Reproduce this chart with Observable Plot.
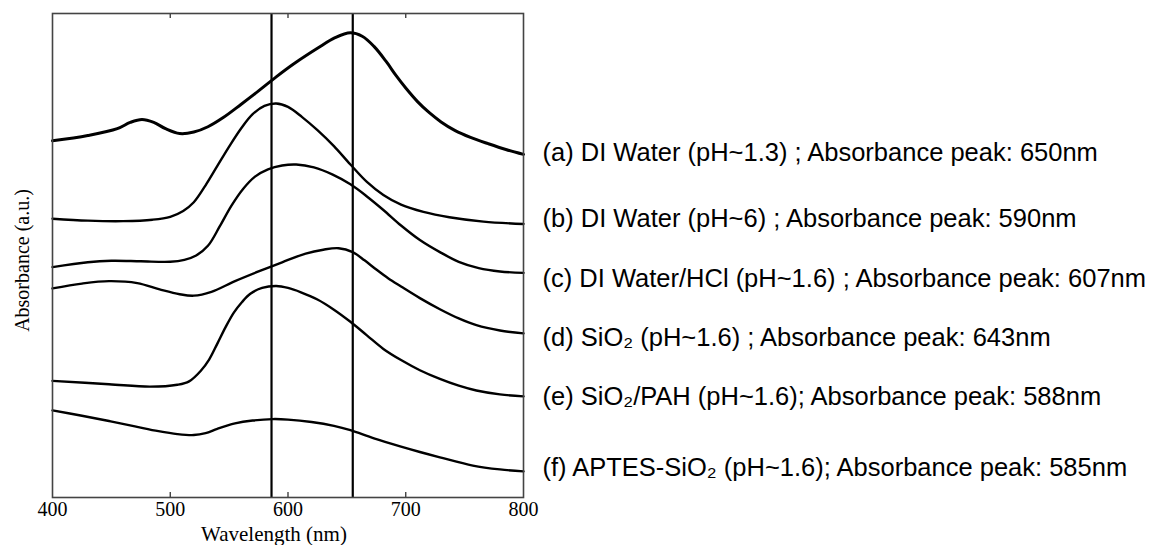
<!DOCTYPE html>
<html>
<head>
<meta charset="utf-8">
<script src="https://cdn.jsdelivr.net/npm/d3@7"></script>
<script src="https://cdn.jsdelivr.net/npm/@observablehq/plot@0.6"></script>
<style>
  html, body { margin: 0; padding: 0; background: #fff; }
  #chart { width: 1157px; height: 545px; overflow: hidden; }
</style>
</head>
<body>
<div id="chart"></div>
<script>
// ---- data (absorbance in arbitrary units, curves offset for display) ----
const waveA = [400,430,455,466,476,486,496,508,520,532,545,560,575,590,605,625,640,653,663,673,683,692,700,710,720,730,742,755,770,785,800];
const absA  = [0.737,0.748,0.762,0.775,0.781,0.775,0.762,0.752,0.755,0.766,0.785,0.812,0.840,0.869,0.896,0.928,0.950,0.960,0.953,0.932,0.902,0.871,0.846,0.818,0.795,0.776,0.758,0.744,0.731,0.719,0.709];

const waveB = [400,430,460,485,500,511,520,530,540,550,560,570,580,590,600,612,625,639,653,667,681,696,715,737,766,800];
const absB  = [0.576,0.572,0.571,0.574,0.580,0.592,0.610,0.645,0.685,0.725,0.762,0.792,0.809,0.814,0.807,0.786,0.759,0.726,0.688,0.652,0.625,0.605,0.590,0.579,0.570,0.565];

const waveC = [400,430,450,475,500,512,522,532,542,552,562,572,583,595,607,622,638,653,667,681,696,712,729,745,762,780,800];
const absC  = [0.476,0.486,0.489,0.488,0.487,0.491,0.500,0.520,0.560,0.603,0.638,0.663,0.678,0.686,0.688,0.682,0.667,0.647,0.622,0.594,0.562,0.532,0.507,0.487,0.474,0.467,0.464];

const waveD = [400,425,448,472,491,508,520,535,555,575,595,615,630,643,655,665,675,685,696,712,729,745,760,780,800];
const absD  = [0.432,0.442,0.447,0.443,0.430,0.420,0.417,0.425,0.447,0.467,0.486,0.504,0.512,0.515,0.507,0.490,0.471,0.453,0.436,0.412,0.389,0.370,0.356,0.345,0.339];

const waveE = [400,448,483,506,516,526,533,540,547,554,561,568,578,590,600,611,625,639,653,667,681,696,712,729,745,760,780,800];
const absE  = [0.241,0.234,0.229,0.233,0.240,0.262,0.285,0.318,0.352,0.382,0.404,0.421,0.433,0.437,0.433,0.424,0.409,0.388,0.363,0.335,0.307,0.284,0.263,0.245,0.231,0.221,0.213,0.209];

const waveF = [400,425,448,470,490,506,520,530,540,555,570,587,600,620,639,653,673,696,712,729,757,780,800];
const absF  = [0.180,0.169,0.158,0.147,0.137,0.131,0.129,0.133,0.142,0.153,0.159,0.162,0.161,0.156,0.148,0.139,0.122,0.105,0.094,0.083,0.066,0.058,0.054];

const seriesKeys = ["a","b","c","d","e","f"];
const seriesLabels = [
  "(a) DI Water (pH~1.3) ; Absorbance peak: 650nm",
  "(b) DI Water (pH~6) ; Absorbance peak: 590nm",
  "(c) DI Water/HCl (pH~1.6) ; Absorbance peak: 607nm",
  "(d) SiO\u2082 (pH~1.6) ; Absorbance peak: 643nm",
  "(e) SiO\u2082/PAH (pH~1.6); Absorbance peak: 588nm",
  "(f) APTES-SiO\u2082 (pH~1.6); Absorbance peak: 585nm"
];
const labelY = [0.713, 0.576, 0.452, 0.329, 0.207, 0.062];
const peakLines = [586, 655];
const xTicks = [400, 500, 600, 700, 800];
const innerTicks = [500, 600, 700];

// ---- build table ----
const waves = [waveA, waveB, waveC, waveD, waveE, waveF];
const absorb = [absA, absB, absC, absD, absE, absF];
const rows = [];
seriesKeys.forEach((k, i) => {
  waves[i].forEach((w, j) => rows.push({series: k, wavelength: w, absorbance: absorb[i][j]}));
});
const labelRows = seriesLabels.map((t, i) => ({text: t, y: labelY[i]}));

const W = 1157, H = 545;
const mTop = 13, mBottom = 48, mLeft = 52, mRight = 634;
const innerH = H - mTop - mBottom;
const serif = "'Liberation Serif', 'Times New Roman', serif";

const chart = Plot.plot({
  width: W,
  height: H,
  marginTop: mTop,
  marginBottom: mBottom,
  marginLeft: mLeft,
  marginRight: mRight,
  style: {fontFamily: serif, fontSize: "20px", color: "#000", background: "#fff"},
  x: {domain: [400, 800]},
  y: {domain: [0, 1]},
  marks: [
    Plot.ruleX(peakLines, {stroke: "#000", strokeWidth: 2.2}),
    Plot.line(rows, {
      x: "wavelength", y: "absorbance", z: "series",
      curve: "catmull-rom", stroke: "#000",
      strokeWidth: d => d.series === "a" ? 3 : 2.4
    }),
    Plot.ruleX(innerTicks, {stroke: "#333", strokeWidth: 1.3, insetTop: innerH - 5}),
    Plot.ruleX(innerTicks, {stroke: "#333", strokeWidth: 1.3, insetBottom: innerH - 5}),
    Plot.frame({stroke: "#444", strokeWidth: 1.6}),
    Plot.axisX({ticks: xTicks, tickSize: 0, tickPadding: 4, tickFormat: d => String(d), label: null,
      fontSize: 20, fontFamily: serif}),
    Plot.axisY({ticks: [], label: null}),
    Plot.text(["Wavelength (nm)"], {frameAnchor: "bottom", lineAnchor: "middle", textAnchor: "middle",
      dy: 37, dx: -14, fontSize: 21, fontFamily: serif, fill: "#000"}),
    Plot.text(["Absorbance (a.u.)"], {frameAnchor: "left", textAnchor: "middle", lineAnchor: "middle",
      rotate: -90, dx: -30, dy: 5, fontSize: 20, fontFamily: serif, fill: "#000"}),
    Plot.text(labelRows, {x: () => 800, y: "y", text: "text", textAnchor: "start", dx: 19,
      fontSize: 25.5, fontFamily: "'Liberation Sans', Arial, sans-serif", fill: "#000", clip: false})
  ]
});
document.getElementById("chart").appendChild(chart);
</script>
</body>
</html>
